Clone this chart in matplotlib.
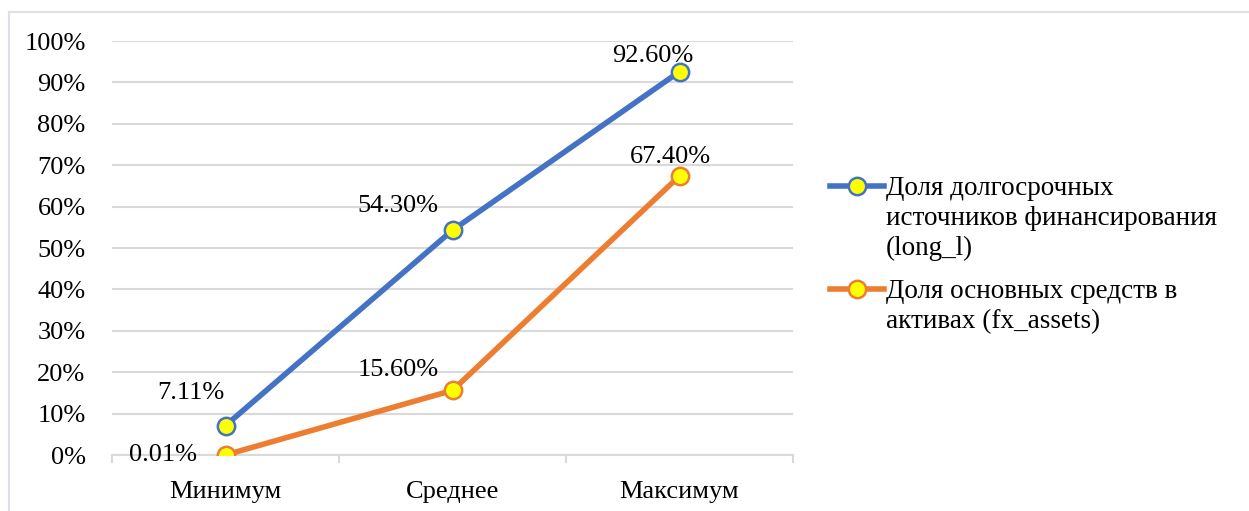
import matplotlib.pyplot as plt
from matplotlib.lines import Line2D
from matplotlib.ticker import FuncFormatter, FixedLocator

categories = ['Минимум', 'Среднее', 'Максимум']
long_l = [7.11, 54.30, 92.60]
fx_assets = [0.01, 15.60, 67.40]
series_names = ['Доля долгосрочных\nисточников финансирования\n(long_l)',
                'Доля основных средств в\nактивах (fx_assets)']
yticks = [0, 10, 20, 30, 40, 50, 60, 70, 80, 90, 100]

# label offsets (pixels) from each point
long_offsets = [(-35, 33), (-55, 24), (-27, 16)]
fx_offsets = [(-63, 0), (-54, 20), (-9, 19)]

plt.rcParams['font.family'] = ['Liberation Serif', 'DejaVu Serif']
plt.rcParams['font.size'] = 19

blue = '#4472C4'
orange = '#ED7D31'
grid_col = '#D9D9D9'
W, H = 1249, 511

fig = plt.figure(figsize=(W / 100, H / 100), dpi=100)
ax = fig.add_axes([112 / W, 1 - 455 / H, (793 - 112) / W, (455 - 41) / H])

line_kw = dict(linewidth=4, marker='o', markersize=12.5, markerfacecolor='#FFFF00',
               markeredgewidth=1.8)

x = range(len(categories))
for vals, col, offs in [(long_l, blue, long_offsets), (fx_assets, orange, fx_offsets)]:
    ax.plot(x, vals, color=col, markeredgecolor=col, zorder=3, **line_kw)
    for xi, v, (dx, dy) in zip(x, vals, offs):
        ax.annotate('{:.2f}%'.format(v), (xi, v), xytext=(dx, dy),
                    textcoords='offset pixels', ha='center', va='center', zorder=4)

ax.set_xlim(-0.5, 2.5)
ax.set_ylim(0, 100)
ax.set_yticks(yticks)
ax.yaxis.set_major_formatter(FuncFormatter(lambda v, p: '{:.0f}%'.format(v)))
ax.tick_params(axis='y', length=0, pad=19)
ax.grid(axis='y', color=grid_col, linewidth=1.5, zorder=0)

ax.set_xticks(list(x))
ax.set_xticklabels(categories)
ax.tick_params(axis='x', which='major', length=0, pad=19)
ax.xaxis.set_minor_locator(FixedLocator([-0.5, 0.5, 1.5, 2.5]))
ax.tick_params(axis='x', which='minor', length=6, width=1.5, color=grid_col)

for s in ['left', 'right', 'top']:
    ax.spines[s].set_visible(False)
ax.spines['bottom'].set_color(grid_col)
ax.spines['bottom'].set_linewidth(1.5)

# legend: handle sits level with the first line of each label
for name, col, y_px in [(series_names[0], blue, 186), (series_names[1], orange, 289)]:
    y = 1 - y_px / H
    fig.add_artist(Line2D([830 / W, 884 / W], [y, y], transform=fig.transFigure,
                          color=col, linewidth=4))
    fig.add_artist(Line2D([857 / W], [y], transform=fig.transFigure, color=col,
                          markeredgecolor=col, **line_kw))
    fig.text(886 / W, y + 10 / H, name, ha='left', va='top', linespacing=1.27,
             fontsize=19.5)

# chart area border
fig.add_artist(Line2D([9 / W, 9 / W], [0, 1 - 12 / H], transform=fig.transFigure,
                      color='#DCE1E8', linewidth=1.5))
fig.add_artist(Line2D([9 / W, 1], [1 - 12 / H, 1 - 12 / H], transform=fig.transFigure,
                      color='#DCE1E8', linewidth=1.5))

fig.savefig('out.png', dpi=100)
